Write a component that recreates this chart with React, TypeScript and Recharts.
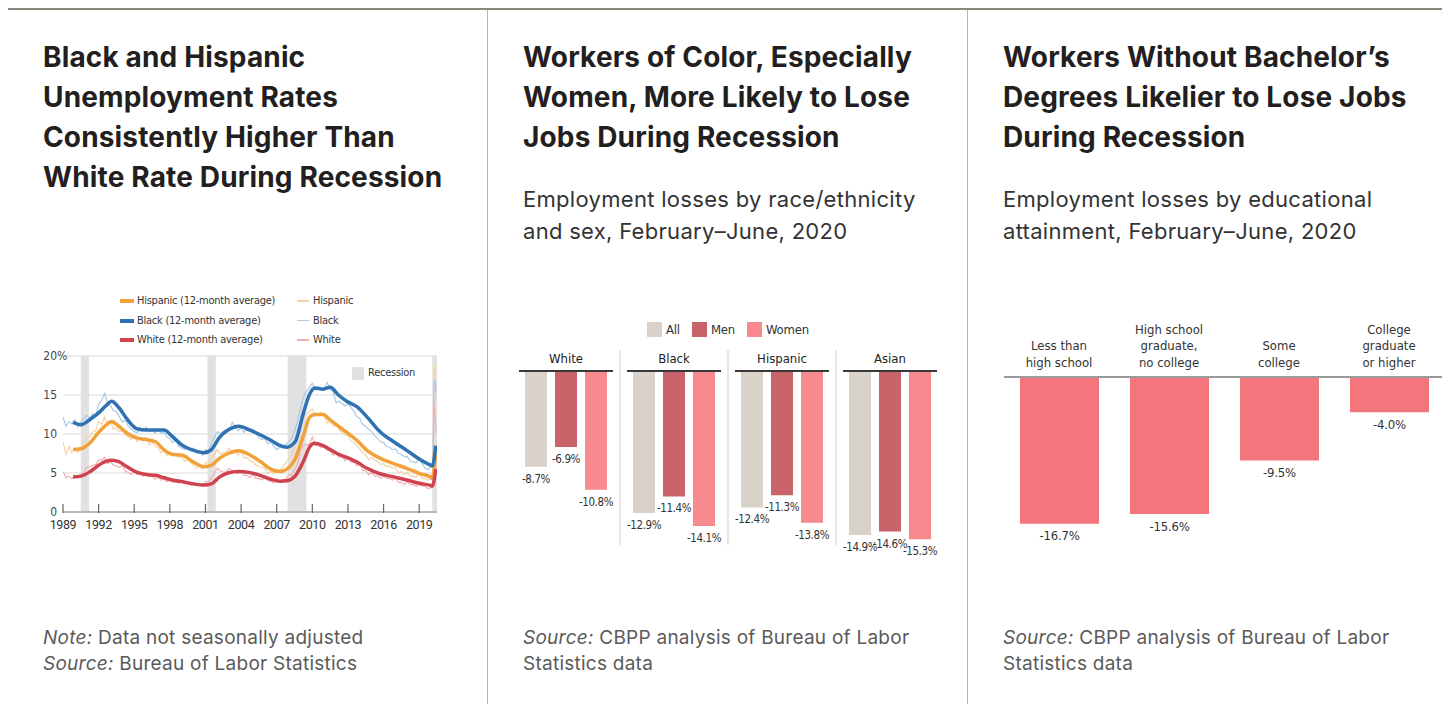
import React from 'react'
import { LineChart, Line, XAxis, YAxis, CartesianGrid, ReferenceArea, BarChart, Bar, LabelList } from 'recharts'

const SANS = "Inter, 'Open Sans', sans-serif"
const NARROW = "'Liberation Sans Narrow', 'DejaVu Sans Condensed', Roboto, sans-serif"

// ---- chart 1: unemployment rates ----
const yearTicks = [1989, 1992, 1995, 1998, 2001, 2004, 2007, 2010, 2013, 2016, 2019]
const rateTicks = [0, 5, 10, 15, 20]
const recessions = [[1990.5, 1991.2], [2001.17, 2001.87], [2007.92, 2009.5], [2020.1, 2020.5]]

const avgYears = [
  1989.85, 1990.5, 1991.3, 1992.0, 1992.6, 1993.1, 1993.7, 1994.4, 1995.2, 1996.0,
  1996.8, 1997.5, 1998.2, 1999.0, 2000.0, 2000.9, 2001.5, 2002.2, 2002.9, 2003.8,
  2004.75, 2005.6, 2006.5, 2007.3, 2007.85, 2008.55, 2009.25, 2009.8, 2010.2, 2010.9,
  2011.5, 2012.2, 2012.9, 2013.75, 2014.6, 2015.7, 2016.85, 2017.95, 2019.1, 2019.95,
  2020.1, 2020.4,
]
const blackAvg = [
  11.5, 11.2, 11.9, 12.7, 13.6, 14.2, 13.4, 11.9, 10.7, 10.5,
  10.5, 10.5, 9.7, 8.6, 7.9, 7.6, 8.0, 9.6, 10.5, 11.0,
  10.5, 9.9, 9.2, 8.5, 8.3, 9.0, 12.7, 15.2, 15.9, 15.75,
  16.0, 15.0, 14.2, 13.5, 12.2, 10.3, 9.0, 7.9, 6.7, 6.0,
  5.9, 8.5,
]
const hispAvg = [
  8.0, 8.1, 8.9, 10.2, 11.1, 11.6, 11.0, 10.1, 9.5, 9.3,
  9.0, 8.0, 7.4, 7.3, 6.4, 5.8, 6.0, 6.9, 7.5, 7.85,
  7.3, 6.5, 5.5, 5.2, 5.5, 6.8, 9.8, 12.2, 12.5, 12.5,
  11.8, 11.0, 10.2, 9.2, 7.9, 6.9, 6.2, 5.6, 4.9, 4.5,
  4.3, 7.5,
]
const whiteAvg = [
  4.5, 4.6, 5.2, 6.0, 6.5, 6.65, 6.45, 5.8, 5.1, 4.8,
  4.7, 4.4, 4.1, 3.9, 3.6, 3.45, 3.6, 4.5, 5.0, 5.2,
  5.05, 4.7, 4.2, 3.95, 4.0, 4.6, 6.5, 8.4, 8.8, 8.5,
  8.0, 7.4, 7.0, 6.4, 5.6, 4.9, 4.5, 4.1, 3.65, 3.4,
  3.3, 5.5,
]

// raw series: quarterly 1989-2019, then monthly Jan-Jun 2020
const rawYears: number[] = []
for (let y = 1989; y <= 2019; y++) for (let q = 0; q < 4; q++) rawYears.push(y + q / 4)
for (let m = 0; m < 6; m++) rawYears.push(2020 + m / 12)

const blackRaw = [
  12.2, 11.0, 11.6, 11.3, 11.8, 10.9, 11.5, 12.0, 12.4, 12.0, 12.6, 12.3, 13.8, 14.3, 15.2, 14.0,
  13.6, 13.0, 12.9, 12.2, 11.5, 11.8, 11.0, 10.6, 10.3, 10.2, 10.8, 10.4, 10.9, 10.3, 10.6, 10.1,
  10.6, 10.1, 10.2, 9.6, 9.4, 8.9, 9.3, 8.4, 8.2, 8.0, 8.4, 7.8, 8.2, 7.5, 7.8, 7.3,
  8.0, 7.7, 8.8, 9.6, 10.3, 10.0, 10.4, 10.6, 10.5, 11.5, 10.9, 10.4, 10.8, 10.2, 10.7, 10.4,
  10.6, 10.0, 9.5, 9.3, 9.4, 8.7, 9.0, 8.4, 8.0, 8.3, 8.2, 8.6, 9.0, 9.4, 10.4, 11.6,
  13.4, 14.8, 15.4, 16.0, 16.5, 15.6, 16.0, 15.8, 15.9, 16.6, 15.8, 15.4, 14.0, 14.2, 13.9, 13.6,
  13.9, 13.4, 12.9, 12.2, 12.0, 11.2, 11.0, 10.6, 10.3, 9.8, 9.4, 9.0, 8.9, 8.4, 8.3, 8.0,
  8.1, 7.5, 7.4, 7.1, 7.1, 6.5, 6.4, 6.3, 7.0, 6.2, 5.6, 5.4,
  6.0, 5.8, 6.7, 16.7, 16.8, 15.4,
]
const hispRaw = [
  9.0, 7.4, 8.4, 7.6, 8.2, 7.6, 8.2, 8.8, 9.8, 9.6, 10.3, 10.4, 11.6, 11.2, 12.2, 11.2,
  11.6, 10.6, 10.8, 10.3, 10.5, 9.8, 9.6, 9.3, 9.8, 9.0, 9.4, 9.1, 9.6, 8.6, 9.0, 8.4,
  8.3, 7.6, 7.9, 7.2, 7.6, 7.1, 7.4, 7.0, 7.0, 6.5, 6.8, 6.3, 6.0, 5.6, 6.0, 5.5,
  6.3, 6.4, 7.0, 7.4, 8.0, 7.4, 7.6, 7.7, 8.2, 7.6, 7.8, 7.3, 7.7, 6.9, 7.0, 6.5,
  6.5, 6.0, 5.9, 5.7, 5.6, 5.0, 5.2, 4.9, 5.5, 5.3, 5.8, 6.2, 6.8, 7.4, 8.3, 9.4,
  11.2, 12.0, 12.6, 12.9, 13.2, 12.3, 12.6, 12.8, 12.3, 11.4, 11.6, 11.1, 11.0, 10.6, 10.2, 9.9,
  9.8, 9.1, 9.0, 8.5, 8.1, 7.5, 7.3, 6.7, 7.0, 6.6, 6.5, 6.1, 6.2, 5.8, 5.9, 5.6,
  5.7, 5.0, 5.2, 4.8, 5.1, 4.6, 4.6, 4.5, 4.9, 4.3, 4.3, 4.1,
  4.3, 4.4, 6.0, 18.9, 17.6, 14.5,
]
const whiteRaw = [
  5.2, 4.4, 4.6, 4.3, 4.7, 4.4, 4.8, 5.0, 5.7, 5.8, 6.0, 6.1, 6.7, 6.6, 7.0, 6.2,
  6.4, 6.0, 5.9, 5.7, 6.0, 5.2, 5.1, 4.8, 5.2, 4.8, 4.9, 4.6, 5.0, 4.5, 4.6, 4.2,
  4.5, 4.1, 4.2, 3.9, 4.3, 3.8, 3.9, 3.7, 4.0, 3.6, 3.7, 3.4, 3.8, 3.4, 3.6, 3.3,
  3.9, 3.9, 4.4, 5.0, 5.6, 5.3, 5.1, 5.1, 5.6, 5.3, 5.2, 4.9, 5.3, 4.7, 4.7, 4.4,
  4.9, 4.3, 4.3, 4.1, 4.5, 4.0, 4.0, 3.7, 4.3, 3.9, 4.1, 4.2, 4.8, 4.8, 5.4, 6.1,
  8.0, 8.5, 8.6, 8.7, 9.6, 8.5, 8.5, 8.3, 8.4, 7.9, 7.9, 7.3, 7.6, 7.0, 7.1, 6.6,
  7.0, 6.4, 6.4, 5.9, 6.2, 5.3, 5.3, 4.8, 5.1, 4.6, 4.6, 4.3, 4.7, 4.3, 4.3, 4.1,
  4.4, 3.8, 3.8, 3.5, 3.9, 3.5, 3.5, 3.3, 3.6, 3.3, 3.3, 3.0,
  3.1, 3.2, 4.1, 14.2, 12.4, 10.1,
]

// ---- chart 2: losses by race/ethnicity and sex ----
const groups = ['White', 'Black', 'Hispanic', 'Asian']
const allLoss = [-8.7, -12.9, -12.4, -14.9]
const menLoss = [-6.9, -11.4, -11.3, -14.6]
const womenLoss = [-10.8, -14.1, -13.8, -15.3]

// ---- chart 3: losses by education ----
const eduLabels = [
  ['Less than', 'high school'],
  ['High school', 'graduate,', 'no college'],
  ['Some', 'college'],
  ['College', 'graduate', 'or higher'],
]
const eduLoss = [-16.7, -15.6, -9.5, -4.0]

const C = {
  hisp: '#f1a23b', hispLight: '#f8d2a4',
  black: '#2f72b4', blackLight: '#a9c9e7',
  white: '#cf434f', whiteLight: '#f4adb3',
  all: '#d9d2cb', men: '#c9636a', women: '#f68a8f', edu: '#f2767b',
}

const pts = (xs: number[], vs: number[]) => xs.map((x, i) => ({ x, v: vs[i] }))

const YearTick = (p: any) => (
  <g>
    <line x1={p.x} x2={p.x} y1={p.y - 8} y2={p.y + 1} stroke="#666" strokeWidth={1.2} />
    <text x={p.x} y={p.y + 12} textAnchor="middle" dominantBaseline="central" fontSize={12.5} fontFamily="Roboto, sans-serif" fill="#333" letterSpacing={-0.4}>
      {p.payload.value}
    </text>
  </g>
)

const RateTick = (p: any) => (
  <g>
    <text x={p.x - 6} y={p.y} textAnchor="end" dominantBaseline="central" fontSize={12} fontFamily={NARROW} fill="#444">{p.payload.value}</text>
    {p.payload.value === 20 && (
      <text x={p.x - 6} y={p.y} textAnchor="start" dominantBaseline="central" fontSize={12} fontFamily={NARROW} fill="#444">%</text>
    )}
  </g>
)

const GroupTick = (p: any) => (
  <g>
    {p.index > 0 && <line x1={p.x - 54} x2={p.x - 54} y1={p.y - 21} y2={p.y + 174} stroke="#cfcfcf" />}
    <line x1={p.x - 47} x2={p.x + 47} y1={p.y} y2={p.y} stroke="#3a3a3a" strokeWidth={2} />
    <text x={p.x} y={p.y - 13} textAnchor="middle" dominantBaseline="central" fontSize={13} fontFamily={NARROW} fill="#222">{p.payload.value}</text>
  </g>
)

const EduTick = (p: any) => {
  const lines = eduLabels[p.index] || []
  return (
    <g>
      {lines.map((t, i) => (
        <text key={i} x={p.x} y={p.y - 15 - (lines.length - 1 - i) * 16.5} textAnchor="middle" dominantBaseline="central" fontSize={13} fontFamily={NARROW} fill="#333">{t}</text>
      ))}
    </g>
  )
}

const BarLabel = (size: number, spacing: number) => (p: any) => {
  const vb = p.viewBox && p.viewBox.width != null ? p.viewBox : p
  const bottom = Math.max(vb.y, vb.y + vb.height)
  return (
    <text x={vb.x + vb.width / 2} y={bottom + 12} textAnchor="middle" dominantBaseline="central" fontSize={size} letterSpacing={spacing} fontFamily={NARROW} fill="#333">
      {`${Number(p.value).toFixed(1)}%`}
    </text>
  )
}

function RateChart() {
  return (
    <LineChart width={400} height={185} margin={{ top: 11, right: 6, bottom: 0, left: 0 }}>
      <CartesianGrid vertical={false} stroke="#d9d9d9" />
      {recessions.map((r, i) => (
        <ReferenceArea key={i} x1={r[0]} x2={r[1]} fill="#e1e1e1" fillOpacity={1} stroke="none" ifOverflow="hidden" />
      ))}
      <XAxis type="number" dataKey="x" domain={[1989, 2020.5]} ticks={yearTicks} interval={0} allowDataOverflow height={18} tickSize={0} tickMargin={0} tickLine={false} axisLine={{ stroke: '#888' }} tick={<YearTick />} />
      <YAxis type="number" domain={[0, 20]} ticks={rateTicks} interval={0} width={20} tickSize={0} tickMargin={0} tickLine={false} axisLine={false} tick={<RateTick />} />
      <Line data={pts(rawYears, hispRaw)} dataKey="v" stroke={C.hispLight} strokeWidth={1.2} dot={false} isAnimationActive={false} />
      <Line data={pts(rawYears, blackRaw)} dataKey="v" stroke={C.blackLight} strokeWidth={1.2} dot={false} isAnimationActive={false} />
      <Line data={pts(rawYears, whiteRaw)} dataKey="v" stroke={C.whiteLight} strokeWidth={1.2} dot={false} isAnimationActive={false} />
      <Line data={pts(avgYears, hispAvg)} dataKey="v" type="monotone" stroke={C.hisp} strokeWidth={3.5} dot={false} isAnimationActive={false} />
      <Line data={pts(avgYears, blackAvg)} dataKey="v" type="monotone" stroke={C.black} strokeWidth={3.5} dot={false} isAnimationActive={false} />
      <Line data={pts(avgYears, whiteAvg)} dataKey="v" type="monotone" stroke={C.white} strokeWidth={3.5} dot={false} isAnimationActive={false} />
    </LineChart>
  )
}

function RaceChart() {
  const data = groups.map((g, i) => ({ name: g, all: allLoss[i], men: menLoss[i], women: womenLoss[i] }))
  return (
    <BarChart width={432} height={229} data={data} margin={{ top: 0, right: 0, bottom: 0, left: 0 }} barSize={22} barGap={8}>
      <XAxis dataKey="name" orientation="top" height={31} tickSize={0} tickMargin={0} tickLine={false} axisLine={false} interval={0} tick={<GroupTick />} />
      <YAxis hide domain={[-18, 0]} />
      <Bar dataKey="all" fill={C.all} isAnimationActive={false}>
        <LabelList dataKey="all" content={BarLabel(11.5, -0.4)} />
      </Bar>
      <Bar dataKey="men" fill={C.men} isAnimationActive={false}>
        <LabelList dataKey="men" content={BarLabel(11.5, -0.4)} />
      </Bar>
      <Bar dataKey="women" fill={C.women} isAnimationActive={false}>
        <LabelList dataKey="women" content={BarLabel(11.5, -0.4)} />
      </Bar>
    </BarChart>
  )
}

function EduChart() {
  const data = eduLabels.map((l, i) => ({ name: l.join(' '), loss: eduLoss[i] }))
  return (
    <BarChart width={440} height={229} data={data} margin={{ top: 0, right: 0, bottom: 0, left: 0 }} barSize={79}>
      <XAxis dataKey="name" orientation="top" height={62} tickSize={0} tickMargin={0} tickLine={false} axisLine={{ stroke: '#9a9a9a', strokeWidth: 2 }} interval={0} tick={<EduTick />} />
      <YAxis hide domain={[-19, 0]} />
      <Bar dataKey="loss" fill={C.edu} isAnimationActive={false}>
        <LabelList dataKey="loss" content={BarLabel(13, -0.2)} />
      </Bar>
    </BarChart>
  )
}

const legendText: React.CSSProperties = { fontFamily: NARROW, fontSize: 11, letterSpacing: -0.25, color: '#333', whiteSpace: 'nowrap' }

function RateLegend() {
  const rows = [
    ['Hispanic (12-month average)', C.hisp, 'Hispanic', C.hispLight],
    ['Black (12-month average)', C.black, 'Black', C.blackLight],
    ['White (12-month average)', C.white, 'White', C.whiteLight],
  ]
  return (
    <>
      {rows.map((r, i) => (
        <React.Fragment key={i}>
          <div style={{ position: 'absolute', left: 112, top: 291 + i * 19.5, width: 14, height: 4, background: r[1] }} />
          <div style={{ ...legendText, position: 'absolute', left: 129, top: 284 + i * 19.5, lineHeight: '18px' }}>{r[0]}</div>
          <div style={{ position: 'absolute', left: 289, top: 292 + i * 19.5, width: 12, height: 1.5, background: r[3] }} />
          <div style={{ ...legendText, position: 'absolute', left: 305, top: 284 + i * 19.5, lineHeight: '18px' }}>{r[2]}</div>
        </React.Fragment>
      ))}
      <div style={{ position: 'absolute', left: 344, top: 359, width: 12, height: 13, background: '#e1e1e1' }} />
      <div style={{ ...legendText, position: 'absolute', left: 360, top: 356, lineHeight: '18px' }}>Recession</div>
    </>
  )
}

function RaceLegend() {
  const items = [['All', C.all], ['Men', C.men], ['Women', C.women]]
  return (
    <div style={{ position: 'absolute', left: 639, top: 314, display: 'flex', alignItems: 'center', gap: 0 }}>
      {items.map((it, i) => (
        <div key={i} style={{ display: 'flex', alignItems: 'center', marginRight: 12 }}>
          <div style={{ width: 15, height: 15, background: it[1], marginRight: 4 }} />
          <span style={{ fontFamily: NARROW, fontSize: 13, letterSpacing: -0.2, color: '#333' }}>{it[0]}</span>
        </div>
      ))}
    </div>
  )
}

const titleStyle: React.CSSProperties = {
  position: 'absolute', top: 29, fontSize: 28, lineHeight: '40px', fontWeight: 700, color: '#231f20', whiteSpace: 'nowrap', letterSpacing: 0.15,
}
const subStyle: React.CSSProperties = {
  position: 'absolute', top: 175, fontSize: 22, lineHeight: '32px', color: '#333', whiteSpace: 'nowrap', letterSpacing: 0.3,
}
const noteStyle: React.CSSProperties = {
  position: 'absolute', top: 617, fontSize: 19, lineHeight: '26px', color: '#5a5a5a', whiteSpace: 'nowrap', letterSpacing: 0.25,
}

export default function App() {
  return (
    <div style={{ position: 'relative', width: 1434, height: 696, fontFamily: SANS, overflow: 'visible' }}>
      <div style={{ position: 'absolute', left: 0, top: 0, width: 1434, height: 2, background: '#8d8780' }} />
      <div style={{ position: 'absolute', left: 479, top: 2, width: 1, height: 694, background: '#b5b5b5' }} />
      <div style={{ position: 'absolute', left: 959, top: 2, width: 1, height: 694, background: '#b5b5b5' }} />

      {/* panel 1 */}
      <div style={{ ...titleStyle, left: 35 }}>
        Black and Hispanic<br />Unemployment Rates<br />Consistently Higher Than<br />White Rate During Recession
      </div>
      <RateLegend />
      <div style={{ position: 'absolute', left: 35, top: 337 }}>
        <RateChart />
      </div>
      <div style={{ ...noteStyle, left: 35 }}>
        <i>Note:</i> Data not seasonally adjusted<br /><i>Source:</i> Bureau of Labor Statistics
      </div>

      {/* panel 2 */}
      <div style={{ ...titleStyle, left: 515 }}>
        Workers of Color, Especially<br />Women, More Likely to Lose<br />Jobs During Recession
      </div>
      <div style={{ ...subStyle, left: 515 }}>
        Employment losses by race/ethnicity<br />and sex, February–June, 2020
      </div>
      <RaceLegend />
      <div style={{ position: 'absolute', left: 504, top: 332 }}>
        <RaceChart />
      </div>
      <div style={{ ...noteStyle, left: 515 }}>
        <i>Source:</i> CBPP analysis of Bureau of Labor<br />Statistics data
      </div>

      {/* panel 3 */}
      <div style={{ ...titleStyle, left: 995 }}>
        Workers Without Bachelor’s<br />Degrees Likelier to Lose Jobs<br />During Recession
      </div>
      <div style={{ ...subStyle, left: 995 }}>
        Employment losses by educational<br />attainment, February–June, 2020
      </div>
      <div style={{ position: 'absolute', left: 996, top: 307 }}>
        <EduChart />
      </div>
      <div style={{ ...noteStyle, left: 995 }}>
        <i>Source:</i> CBPP analysis of Bureau of Labor<br />Statistics data
      </div>
    </div>
  )
}
